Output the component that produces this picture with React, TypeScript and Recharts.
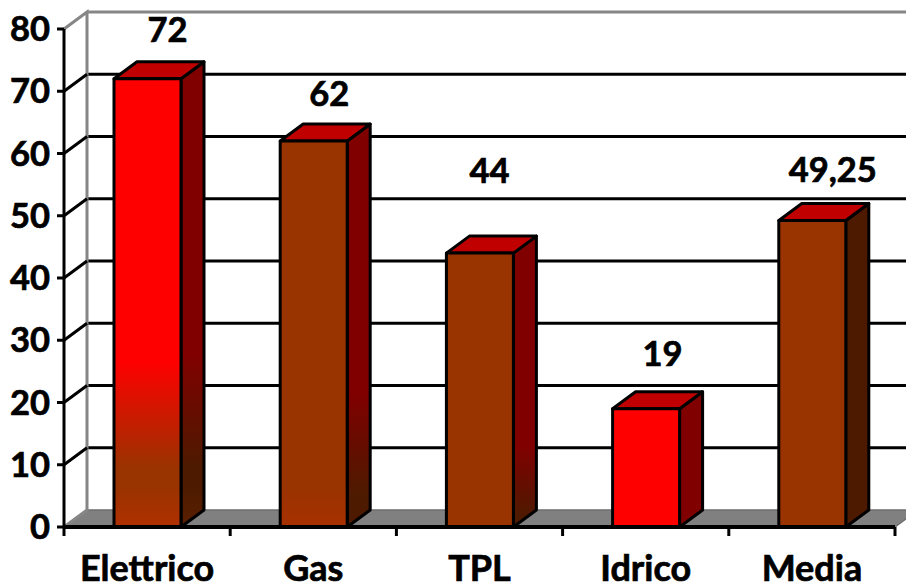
import React from "react";
import { BarChart, Bar, XAxis, YAxis, CartesianGrid, LabelList, usePlotArea } from "recharts";

const categories = ["Elettrico", "Gas", "TPL", "Idrico", "Media"];
const values = [72, 62, 44, 19, 49.25];
const valueLabels = ["72", "62", "44", "19", "49,25"];
const yTicks = [0, 10, 20, 30, 40, 50, 60, 70, 80];

const data = categories.map((name, i) => ({ name, value: values[i], label: valueLabels[i] }));

const DX = 23;
const DY = 17;
const FONT = "Lato, sans-serif";
const TEXT_STROKE = { stroke: "#000", strokeWidth: 0.7 };
const frontFills = ["url(#f0)", "url(#f1)", "url(#f2)", "#ff0000", "#993300"];
const sideFills = ["url(#s0)", "url(#s1)", "url(#s2)", "#800000", "#4d1a00"];
const labelShift = [20, 15.5, 9.5, 16.5, 20.5];
const labelLift = [49, 47, 82, 55, 50];

function Stops({ stops }: { stops: [number, string][] }) {
  return <>{stops.map(([o, c], i) => <stop key={i} offset={`${o}%`} stopColor={c} />)}</>;
}

function Defs() {
  return (
    <defs>
      <linearGradient id="f0" x1="0" y1="0" x2="0" y2="1">
        <Stops stops={[[0, "#ff0000"], [63, "#ff0000"], [87, "#993300"], [91, "#993300"], [100, "#b03000"]]} />
      </linearGradient>
      <linearGradient id="s0" x1="0" y1="0" x2="0" y2="1">
        <Stops stops={[[0, "#800000"], [63, "#800000"], [87, "#4d1a00"], [91, "#4d1a00"], [100, "#5a1f00"]]} />
      </linearGradient>
      <linearGradient id="f1" x1="0" y1="0" x2="0" y2="1">
        <Stops stops={[[0, "#993300"], [90, "#993300"], [100, "#a83000"]]} />
      </linearGradient>
      <linearGradient id="s1" x1="0" y1="0" x2="0" y2="1">
        <Stops stops={[[0, "#800000"], [67, "#800000"], [92, "#4d1a00"], [100, "#4d1a00"]]} />
      </linearGradient>
      <linearGradient id="f2" x1="0" y1="0" x2="0" y2="1">
        <Stops stops={[[0, "#993300"], [100, "#993300"]]} />
      </linearGradient>
      <linearGradient id="s2" x1="0" y1="0" x2="0" y2="1">
        <Stops stops={[[0, "#800000"], [72, "#800000"], [97, "#4d1a00"], [100, "#4d1a00"]]} />
      </linearGradient>
    </defs>
  );
}

function Room() {
  const p = usePlotArea();
  if (!p) return null;
  const l = p.x, r = p.x + p.width, t = p.y, b = p.y + p.height;
  return (
    <g>
      <Defs />
      <polygon points={`${l},${b} ${l + DX},${b - DY} ${r + DX},${b - DY} ${r},${b}`} fill="#808080" stroke="#6e6e6e" strokeWidth={1.5} />
      <polyline points={`${l},${t} ${l + DX},${t - DY} ${l + DX},${b - DY} ${l},${b}`} fill="none" stroke="#868686" strokeWidth={3} />
      <line x1={l + DX} y1={t - DY} x2={r + DX} y2={t - DY} stroke="#868686" strokeWidth={3} />
    </g>
  );
}

function Box3D(props: any) {
  const { x, y, width, height, index } = props;
  const common = { stroke: "#000", strokeWidth: 3, strokeLinejoin: "round" as const };
  return (
    <g>
      <polygon points={`${x + width},${y} ${x + width + DX},${y - DY} ${x + width + DX},${y + height - DY} ${x + width},${y + height}`} fill={sideFills[index]} {...common} />
      <polygon points={`${x},${y} ${x + DX},${y - DY} ${x + width + DX},${y - DY} ${x + width},${y}`} fill="#c00000" {...common} />
      <rect x={x} y={y} width={width} height={height} fill={frontFills[index]} {...common} />
    </g>
  );
}

function YTick(props: any) {
  const { x, y, payload } = props;
  const v = payload.value;
  const depth = v !== 0 && v !== 80;
  return (
    <g>
      <line x1={x - 7} y1={y} x2={x} y2={y} stroke="#000" strokeWidth={3} />
      {depth && <line x1={x} y1={y} x2={x + DX} y2={y - DY} stroke="#000" strokeWidth={3} />}
      <text x={x - 14} y={y} dy={12} textAnchor="end" fontFamily={FONT} fontWeight={700} fontSize={34.5} fill="#000" {...TEXT_STROKE}>{v}</text>
    </g>
  );
}

function XTick(props: any) {
  const { x, y, payload, width, visibleTicksCount, index } = props;
  const band = width / visibleTicksCount;
  const left = x - band / 2;
  const right = x + band / 2;
  return (
    <g>
      <line x1={left} y1={y} x2={left} y2={y + 9} stroke="#000" strokeWidth={3} />
      {index === visibleTicksCount - 1 && <line x1={right} y1={y} x2={right} y2={y + 9} stroke="#000" strokeWidth={3} />}
      <text x={x} y={y} dy={54} textAnchor="middle" fontFamily={FONT} fontWeight={700} fontSize={36} fill="#000" {...TEXT_STROKE}>{payload.value}</text>
    </g>
  );
}

function ValueLabel(props: any) {
  const { x, y, width, index, value } = props;
  return (
    <text x={x + width / 2 + labelShift[index]} y={y - labelLift[index]} dy={12} textAnchor="middle" fontFamily={FONT} fontWeight={700} fontSize={34.5} fill="#000" {...TEXT_STROKE}>{value}</text>
  );
}

export default function App() {
  return (
    <div style={{ position: "absolute", left: 0, top: 0 }}>
      <BarChart width={906} height={588} data={data} margin={{ top: 29, right: 11, bottom: 0, left: 0 }} barCategoryGap={0}>
        <Room />
        <CartesianGrid
          vertical={false}
          stroke="#000"
          strokeWidth={3}
          x={64 + DX}
          width={842}
          horizontalCoordinatesGenerator={({ offset }: any) => yTicks.filter((t) => t !== 0 && t !== 80).map((t) => offset.top + offset.height * (1 - t / 80) - DY)}
        />
        <XAxis
          dataKey="name"
          height={61}
          tickLine={false}
          tickSize={0}
          axisLine={{ stroke: "#000", strokeWidth: 4 }}
          tick={<XTick />}
          tickMargin={0}
          interval={0}
        />
        <YAxis
          width={64}
          domain={[0, 80]}
          ticks={yTicks}
          tickLine={false}
          tickSize={0}
          axisLine={{ stroke: "#000", strokeWidth: 3 }}
          tick={<YTick />}
          interval={0}
          tickMargin={0}
        />
        <Bar dataKey="value" barSize={67} isAnimationActive={false} shape={<Box3D />}>
          <LabelList dataKey="label" content={<ValueLabel />} />
        </Bar>
      </BarChart>
    </div>
  );
}
